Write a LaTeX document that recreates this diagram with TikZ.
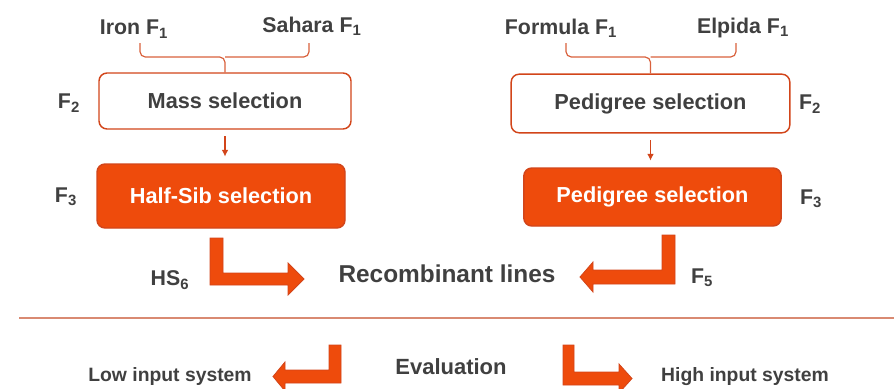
\documentclass[tikz,border=0pt]{standalone}
\usepackage{fontspec}
\setmainfont{Liberation Sans}
\usetikzlibrary{arrows.meta}
\definecolor{flame}{HTML}{EE4B0C}
\definecolor{flameedge}{HTML}{D2451A}
\definecolor{ink}{HTML}{404040}
\definecolor{rulecol}{HTML}{D98A72}

\begin{document}
\begin{tikzpicture}[x=0.75pt,y=-0.75pt]
        \tikzstyle{gen label}=[text=ink,font=\fontsize{16}{19}\selectfont\bfseries,inner sep=0pt]
        \tikzstyle{plain box}=[draw=flameedge,line width=1.1pt,fill=white,rounded corners=6pt,inner sep=0pt,
            text=ink,font=\fontsize{16.3}{19}\selectfont\bfseries]
        \tikzstyle{full box}=[plain box,fill=flame,draw=flameedge,text=white]
        \tikzstyle{brace line}=[draw=flameedge!85,line width=0.9pt,rounded corners=4pt]
        \tikzstyle{small arrow}=[draw=flameedge,line width=0.9pt,-{Latex[length=5pt,width=5pt]}]
        \tikzstyle{bent arrow}=[fill=flame,draw=flameedge,line width=0.6pt]
        \useasboundingbox (0,0) rectangle (894,389);

        % breeding schemes
        \node[gen label] (iron) at (134,29) {Iron F\textsubscript{1}};
        \node[gen label] (sahara) at (312,26) {Sahara F\textsubscript{1}};
        \node[gen label] (formula) at (561,28) {Formula F\textsubscript{1}};
        \node[gen label] (elpida) at (743,28) {Elpida F\textsubscript{1}};

        \node[plain box,minimum width=189pt,minimum height=42pt] (ms) at (225,101) {Mass selection};
        \node[full box,minimum width=186pt,minimum height=48pt] (hs) at (221,196) {Half-Sib selection};
        \node[plain box,minimum width=209pt,minimum height=44pt] (pa) at (650.5,103.5) {Pedigree selection};
        \node[full box,minimum width=193pt,minimum height=43.5pt] (pb) at (652.5,197) {Pedigree selection};

        \node[gen label] (fa) at (69,103) {F\textsubscript{2}};
        \node[gen label] (fb) at (66,197) {F\textsubscript{3}};
        \node[gen label] (fc) at (810,104) {F\textsubscript{2}};
        \node[gen label] (fd) at (811,199) {F\textsubscript{3}};

        \draw[brace line] (140,43) |- (ms.north |- 0,57) -- (ms.north);
        \draw[brace line] (309,43) |- (ms.north |- 0,57);
        \draw[brace line] (566,43) |- (pa.north |- 0,57) -- (pa.north);
        \draw[brace line] (736,43) |- (pa.north |- 0,57);

        \draw[small arrow] ([yshift=-5pt]ms.south) -- ([yshift=5pt]ms.south |- hs.north);
        \draw[small arrow] ([yshift=-5pt]pa.south) -- ([yshift=5pt]pa.south |- pb.north);

        % recombinant lines
        \node[gen label] (hsix) at (170,280) {HS\textsubscript{6}};
        \node[gen label,font=\fontsize{18.3}{22}\selectfont\bfseries] (rec) at (447,274) {Recombinant lines};
        \node[gen label] (ffive) at (702,278) {F\textsubscript{5}};
        \draw[bent arrow] (210,238) -- (223,238) -- (223,273) -- (288,273) -- (288,263) -- (304,279)
            -- (288,295) -- (288,285) -- (210,285) -- cycle;
        \draw[bent arrow] (675,235) -- (662,235) -- (662,270) -- (593,270) -- (593,262) -- (580,277)
            -- (593,292) -- (593,284) -- (675,284) -- cycle;

        \draw[draw=rulecol,line width=1pt] (19,318) -- (894,318);

        % evaluation
        \node[gen label,font=\fontsize{14.5}{17}\selectfont\bfseries] (low) at (170,376) {Low input system};
        \node[gen label,font=\fontsize{16.5}{20}\selectfont\bfseries] (eval) at (451,367) {Evaluation};
        \node[gen label,font=\fontsize{14.5}{17}\selectfont\bfseries] (high) at (745,377) {High input system};
        \draw[bent arrow] (341,345) -- (329,345) -- (329,370) -- (285,370) -- (285,362) -- (273,376.5)
            -- (285,391) -- (285,383) -- (341,383) -- cycle;
        \draw[bent arrow] (563,345) -- (574,345) -- (574,372) -- (619,372) -- (619,364) -- (632,378.5)
            -- (619,393) -- (619,385) -- (563,385) -- cycle;
    \end{tikzpicture}
\end{document}
